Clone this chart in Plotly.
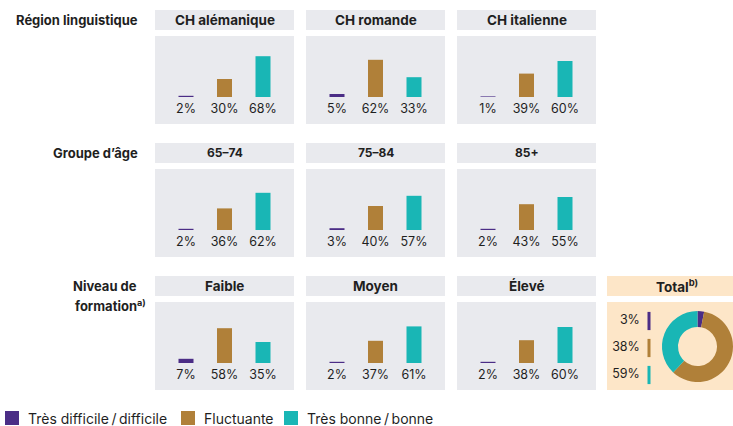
import plotly.graph_objects as go

W, H = 733, 426

# ---------------- data ----------------
categories = ["Très difficile\u2009/\u2009difficile", "Fluctuante", "Très bonne\u2009/\u2009bonne"]
colors = ["#4b2d86", "#b08039", "#19b6b5"]

group_titles = ["Région linguistique", "Groupe d’âge", "Niveau de", "formation<sup>a)</sup>"]

row1_panels = ["CH alémanique", "CH romande", "CH italienne"]
row1_values = [[2, 30, 68], [5, 62, 33], [1, 39, 60]]

row2_panels = ["65–74", "75–84", "85+"]
row2_values = [[2, 36, 62], [3, 40, 57], [2, 43, 55]]

row3_panels = ["Faible", "Moyen", "Élevé"]
row3_values = [[7, 58, 35], [2, 37, 61], [2, 38, 60]]

total_title = "Total<sup>b)</sup>"
total_labels = [3, 38, 59]
# ring shares as drawn in the donut (purple, brown, teal, clockwise from top)
total_ring = [3, 59, 38]

# ---------------- layout helpers ----------------
def px(x):
    return x / W

def py(y):
    return 1 - y / H

FONT = "Inter"
TXT = "#1f1f1f"
GREY = "#e9eaee"
PEACH = "#fde6c8"

col_x = [155, 306, 457]
col_w = 139
row_top = [36, 169, 302]
panel_h = 88
hdr_h = 20
hdr_gap = 6
scale = 0.6           # px per percent
base_off = 61         # baseline offset from panel top
y_top = base_off / scale
y_bot = y_top - panel_h / scale
label_y = -13 / scale
unit_px = 38.5
half = col_w / 2 / unit_px

rows = [(row1_panels, row1_values, 13.5), (row2_panels, row2_values, 12), (row3_panels, row3_values, 13.5)]

fig = go.Figure()
shapes = []
annotations = []
layout_axes = {}

n = 0
for r, (names, vals, hfs) in enumerate(rows):
    T = row_top[r]
    for c in range(3):
        n += 1
        xa = "x" if n == 1 else f"x{n}"
        ya = "y" if n == 1 else f"y{n}"
        xkey = "xaxis" if n == 1 else f"xaxis{n}"
        ykey = "yaxis" if n == 1 else f"yaxis{n}"
        x0 = col_x[c]
        layout_axes[xkey] = dict(domain=[px(x0), px(x0 + col_w)], range=[1 - half, 1 + half],
                                 visible=False, fixedrange=True, anchor=ya)
        layout_axes[ykey] = dict(domain=[py(T + panel_h), py(T)], range=[y_bot, y_top],
                                 visible=False, fixedrange=True, anchor=xa)
        # panel background
        shapes.append(dict(type="rect", xref=f"{xa} domain", yref=f"{ya} domain",
                           x0=0, x1=1, y0=0, y1=1, fillcolor=GREY, line_width=0, layer="below"))
        # header
        shapes.append(dict(type="rect", xref="paper", yref="paper",
                           x0=px(x0), x1=px(x0 + col_w), y0=py(T - hdr_gap), y1=py(T - hdr_gap - hdr_h),
                           fillcolor=GREY, line_width=0, layer="below"))
        annotations.append(dict(xref="paper", yref="paper", x=px(x0 + col_w / 2), y=py(T - hdr_gap - hdr_h / 2),
                                text=f"<b>{names[c]}</b>", showarrow=False,
                                font=dict(family=FONT, size=hfs, color=TXT), xanchor="center", yanchor="middle"))
        for k in range(3):
            fig.add_trace(go.Bar(x=[k], y=[vals[c][k]], xaxis=xa, yaxis=ya, width=15 / unit_px,
                                 marker=dict(color=colors[k], line_width=0),
                                 name=categories[k], showlegend=False, hoverinfo="skip"))
        fig.add_trace(go.Scatter(x=[0, 1, 2], y=[label_y] * 3, xaxis=xa, yaxis=ya, mode="text",
                                 text=[f"{v}%" for v in vals[c]],
                                 textfont=dict(family=FONT, size=12.5, color=TXT),
                                 showlegend=False, hoverinfo="skip"))

# left group titles
title_pos = [(140, 20), (140, 153), (139, 286), (148, 305)]
for t, (x, y) in zip(group_titles, title_pos):
    annotations.append(dict(xref="paper", yref="paper", x=px(x), y=py(y), text=f"<b>{t}</b>",
                            showarrow=False, xanchor="right", yanchor="middle",
                            font=dict(family=FONT, size=13, color=TXT)))

# Total panel
T = row_top[2]
tx0, tx1 = 607, 746
shapes.append(dict(type="rect", xref="paper", yref="paper", x0=px(tx0), x1=px(tx1),
                   y0=py(T), y1=py(T + panel_h), fillcolor=PEACH, line_width=0, layer="below"))
shapes.append(dict(type="rect", xref="paper", yref="paper", x0=px(tx0), x1=px(tx1),
                   y0=py(T - hdr_gap), y1=py(T - hdr_gap - hdr_h), fillcolor=PEACH, line_width=0, layer="below"))
annotations.append(dict(xref="paper", yref="paper", x=px((tx0 + tx1) / 2), y=py(T - hdr_gap - hdr_h / 2),
                        text=f"<b>{total_title}</b>", showarrow=False,
                        font=dict(family=FONT, size=13.5, color=TXT), xanchor="center", yanchor="middle"))

fig.add_trace(go.Pie(values=total_ring, marker=dict(colors=colors, line_width=0), hole=0.55,
                     sort=False, direction="clockwise", rotation=0, textinfo="none",
                     showlegend=False, hoverinfo="skip",
                     domain=dict(x=[px(662), 1.0], y=[py(383), py(310)])))

# total labels with colour ticks
layout_axes["xaxis10"] = dict(domain=[px(607), px(660)], range=[0, 1], visible=False, fixedrange=True, anchor="y10")
sp = 27.0
top_unit = 1 - (348 - T) / sp
layout_axes["yaxis10"] = dict(domain=[py(T + panel_h), py(T)], range=[top_unit + panel_h / sp, top_unit],
                              visible=False, fixedrange=True, anchor="x10")
fig.add_trace(go.Scatter(x=[(649 - 607) / 53] * 3, y=[0, 1, 2], xaxis="x10", yaxis="y10",
                         mode="markers+text", text=[f"{v}%" for v in total_labels],
                         textposition="middle left",
                         textfont=dict(family=FONT, size=12.5, color=TXT),
                         marker=dict(symbol="line-ns", size=13, line=dict(width=3, color=colors)),
                         showlegend=False, hoverinfo="skip"))

# custom legend
leg_x = [5, 181, 284]
for k in range(3):
    x0 = leg_x[k]
    shapes.append(dict(type="rect", xref="paper", yref="paper", x0=px(x0), x1=px(x0 + 14),
                       y0=py(411), y1=py(425), fillcolor=colors[k], line_width=0))
    annotations.append(dict(xref="paper", yref="paper", x=px(x0 + 21), y=py(418), text=categories[k],
                            showarrow=False, xanchor="left", yanchor="middle",
                            font=dict(family=FONT, size=14, color=TXT)))

fig.update_layout(width=W, height=H, margin=dict(l=0, r=0, t=0, b=0),
                  paper_bgcolor="white", plot_bgcolor="rgba(0,0,0,0)",
                  barmode="overlay", showlegend=False,
                  shapes=shapes, annotations=annotations, **layout_axes)

fig.write_html("out.html", config={"displayModeBar": False, "staticPlot": True},
               post_script="document.body.style.margin='0';document.body.style.padding='0';"
                           "document.documentElement.style.overflow='hidden';")
